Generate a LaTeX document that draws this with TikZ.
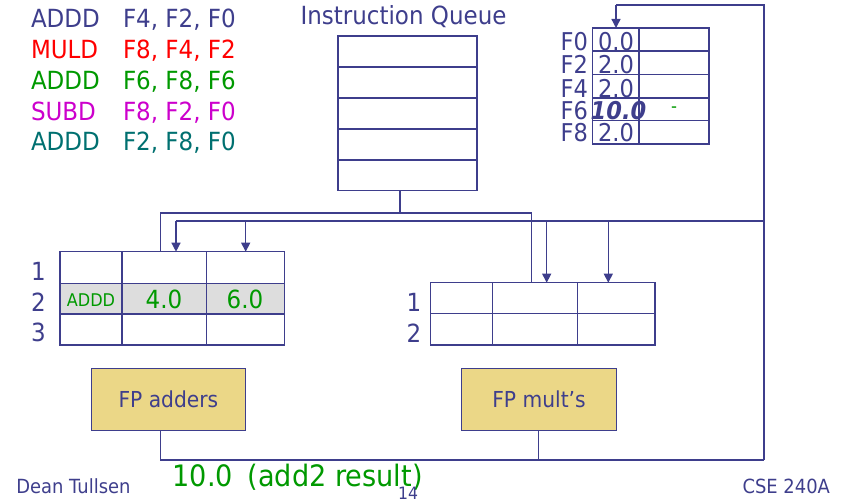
\documentclass[tikz,border=0pt]{standalone}
\usepackage{fontspec}
\setmainfont{DejaVu Sans}[FakeStretch=0.92]
\usetikzlibrary{arrows.meta}
\definecolor{navyc}{RGB}{62,62,140}
\definecolor{redc}{RGB}{255,0,0}
\definecolor{greenc}{RGB}{0,153,0}
\definecolor{magc}{RGB}{204,0,204}
\definecolor{tealc}{RGB}{0,112,112}
\definecolor{fpfill}{RGB}{235,215,135}
\definecolor{rowgrey}{RGB}{221,221,221}
\newcommand\fsz[1]{\fontsize{#1}{#1}\selectfont}
\begin{document}
\begin{tikzpicture}[x=1pt,y=-1pt,
  ln/.style={draw=navyc, line width=1.3pt},
  arr/.style={ln,-{Triangle[width=9pt,length=9pt]}},
  tbl/.style={ln, inner sep=0pt, outer sep=0pt},
  txt/.style={inner sep=0pt, outer sep=0pt, text=navyc, font=\fsz{25}},
  fpbox/.style={draw=navyc, line width=1pt, fill=fpfill, inner sep=0pt, minimum height=62pt, text=navyc, font=\fsz{22}}]
\useasboundingbox (0,0) rectangle (850,503);

% instruction list
\node[txt, anchor=base west] (i1m) at (31,28) {ADDD};
\node[txt, anchor=base west] (i1a) at (123,28) {F4, F2, F0};
\node[txt, anchor=base west, text=redc] (i2m) at (31,58.7) {MULD};
\node[txt, anchor=base west, text=redc] (i2a) at (123,58.7) {F8, F4, F2};
\node[txt, anchor=base west, text=greenc] (i3m) at (31,89.4) {ADDD};
\node[txt, anchor=base west, text=greenc] (i3a) at (123,89.4) {F6, F8, F6};
\node[txt, anchor=base west, text=magc] (i4m) at (31,120.1) {SUBD};
\node[txt, anchor=base west, text=magc] (i4a) at (123,120.1) {F8, F2, F0};
\node[txt, anchor=base west, text=tealc] (i5m) at (31,150.8) {ADDD};
\node[txt, anchor=base west, text=tealc] (i5a) at (123,150.8) {F2, F8, F0};

% instruction queue
\node[txt, anchor=base] (iqt) at (403.5,25) {Instruction Queue};
\node[tbl, minimum width=139pt, minimum height=154.7pt] (iq) at (407.5,113.35) {};
\foreach \yy in {67,98,129,160} \draw[ln] (338,\yy) -- (477,\yy);

% register file
\node[tbl, minimum width=116.3pt, minimum height=116pt] (rf) at (650.85,86) {};
\draw[ln] (639,28) -- (639,144);
\foreach \yy in {51,74.7,98,120.7} \draw[ln] (592.7,\yy) -- (709,\yy);
\node[txt, anchor=base east, font=\fsz{24.5}] (r0) at (588,50) {F0};
\node[txt, anchor=base east, font=\fsz{24.5}] (r2) at (588,73.5) {F2};
\node[txt, anchor=base east, font=\fsz{24.5}] (r4) at (588,97) {F4};
\node[txt, anchor=base east, font=\fsz{24.5}] (r6) at (588,119) {F6};
\node[txt, anchor=base east, font=\fsz{24.5}] (r8) at (588,141) {F8};
\node[txt, anchor=base, font=\fsz{24.5}] (v0) at (616,50) {0.0};
\node[txt, anchor=base, font=\fsz{24.5}] (v2) at (616,73.5) {2.0};
\node[txt, anchor=base, font=\fsz{24.5}] (v4) at (616,97) {2.0};
\node[txt, anchor=base, font=\fsz{24.5}\bfseries\itshape] (v6) at (618.5,119) {10.0};
\node[txt, anchor=base, font=\fsz{24.5}] (v8) at (616,141) {2.0};
\node[txt, text=greenc, font=\fsz{18}] (t6) at (674,110) {-};

% adder reservation stations
\fill[rowgrey] (60,283.3) rectangle (284.3,314);
\node[tbl, minimum width=224.3pt, minimum height=93.3pt] (addrs) at (172.15,298.35) {};
\draw[ln] (122,251.7) -- (122,345);
\draw[ln] (206.7,251.7) -- (206.7,345);
\draw[ln] (60,283.3) -- (284.3,283.3);
\draw[ln] (60,314) -- (284.3,314);
\node[txt, anchor=base] (a1) at (38.5,280) {1};
\node[txt, anchor=base] (a2) at (38.5,311) {2};
\node[txt, anchor=base] (a3) at (38.5,341) {3};
\node[txt, anchor=base, text=greenc, font=\fsz{17.5}] (aop) at (91,306) {ADDD};
\node[txt, anchor=base, text=greenc] (aj) at (164,308) {4.0};
\node[txt, anchor=base, text=greenc] (ak) at (245,308) {6.0};

% multiplier reservation stations
\node[tbl, minimum width=224.3pt, minimum height=62.3pt] (mulrs) at (542.85,313.85) {};
\draw[ln] (492.7,282.7) -- (492.7,345);
\draw[ln] (577.7,282.7) -- (577.7,345);
\draw[ln] (430.7,313.3) -- (655,313.3);
\node[txt, anchor=base] (m1) at (414,311) {1};
\node[txt, anchor=base] (m2) at (414,342) {2};

% functional units
\node[fpbox, minimum width=154.8pt] (fpa) at (168.4,399) {FP adders};
\node[fpbox, minimum width=154.7pt] (fpm) at (539,399) {FP mult’s};

% issue bus
\coordinate (qout) at (400,190.7);
\coordinate (b1l) at (160.7,213);
\coordinate (b1m) at (400,213);
\coordinate (b1r) at (531.7,213);
\draw[ln] (qout) -- (b1m);
\draw[ln] (b1l |- addrs.north) -- (b1l) -- (b1r) -- (b1r |- mulrs.north);

% common data bus
\coordinate (b2l) at (176,221);
\coordinate (b2a) at (245.7,221);
\coordinate (b2b) at (546.7,221);
\coordinate (b2c) at (608.3,221);
\coordinate (b2r) at (764,221);
\coordinate (tr) at (764,5);
\coordinate (tl) at (616,5);
\coordinate (br) at (764,460);
\coordinate (bl) at (160.6,460);
\coordinate (bm) at (538.8,460);
\draw[ln] (b2l) -- (b2r);
\draw[arr] (b2l) -- (b2l |- addrs.north);
\draw[arr] (b2a) -- (b2a |- addrs.north);
\draw[arr] (b2b) -- (b2b |- mulrs.north);
\draw[arr] (b2c) -- (b2c |- mulrs.north);
\draw[ln] (br) -- (tr) -- (tl);
\draw[arr] (tl) -- (tl |- rf.north);
\draw[ln] (bl |- fpa.south) -- (bl) -- (br);
\draw[ln] (bm |- fpm.south) -- (bm);

% footer
\node[txt, anchor=base west, text=greenc, font=\fsz{29.5}] (res) at (172.5,486) {10.0\hspace{0.5em}(add2 result)};
\node[txt, anchor=base west, font=\fsz{19.5}] (auth) at (16.3,493) {Dean Tullsen};
\node[txt, anchor=base, font=\fsz{17}] (pg) at (408,499) {14};
\node[txt, anchor=base east, font=\fsz{19.5}] (crs) at (830,493) {CSE 240A};
\end{tikzpicture}
\end{document}
